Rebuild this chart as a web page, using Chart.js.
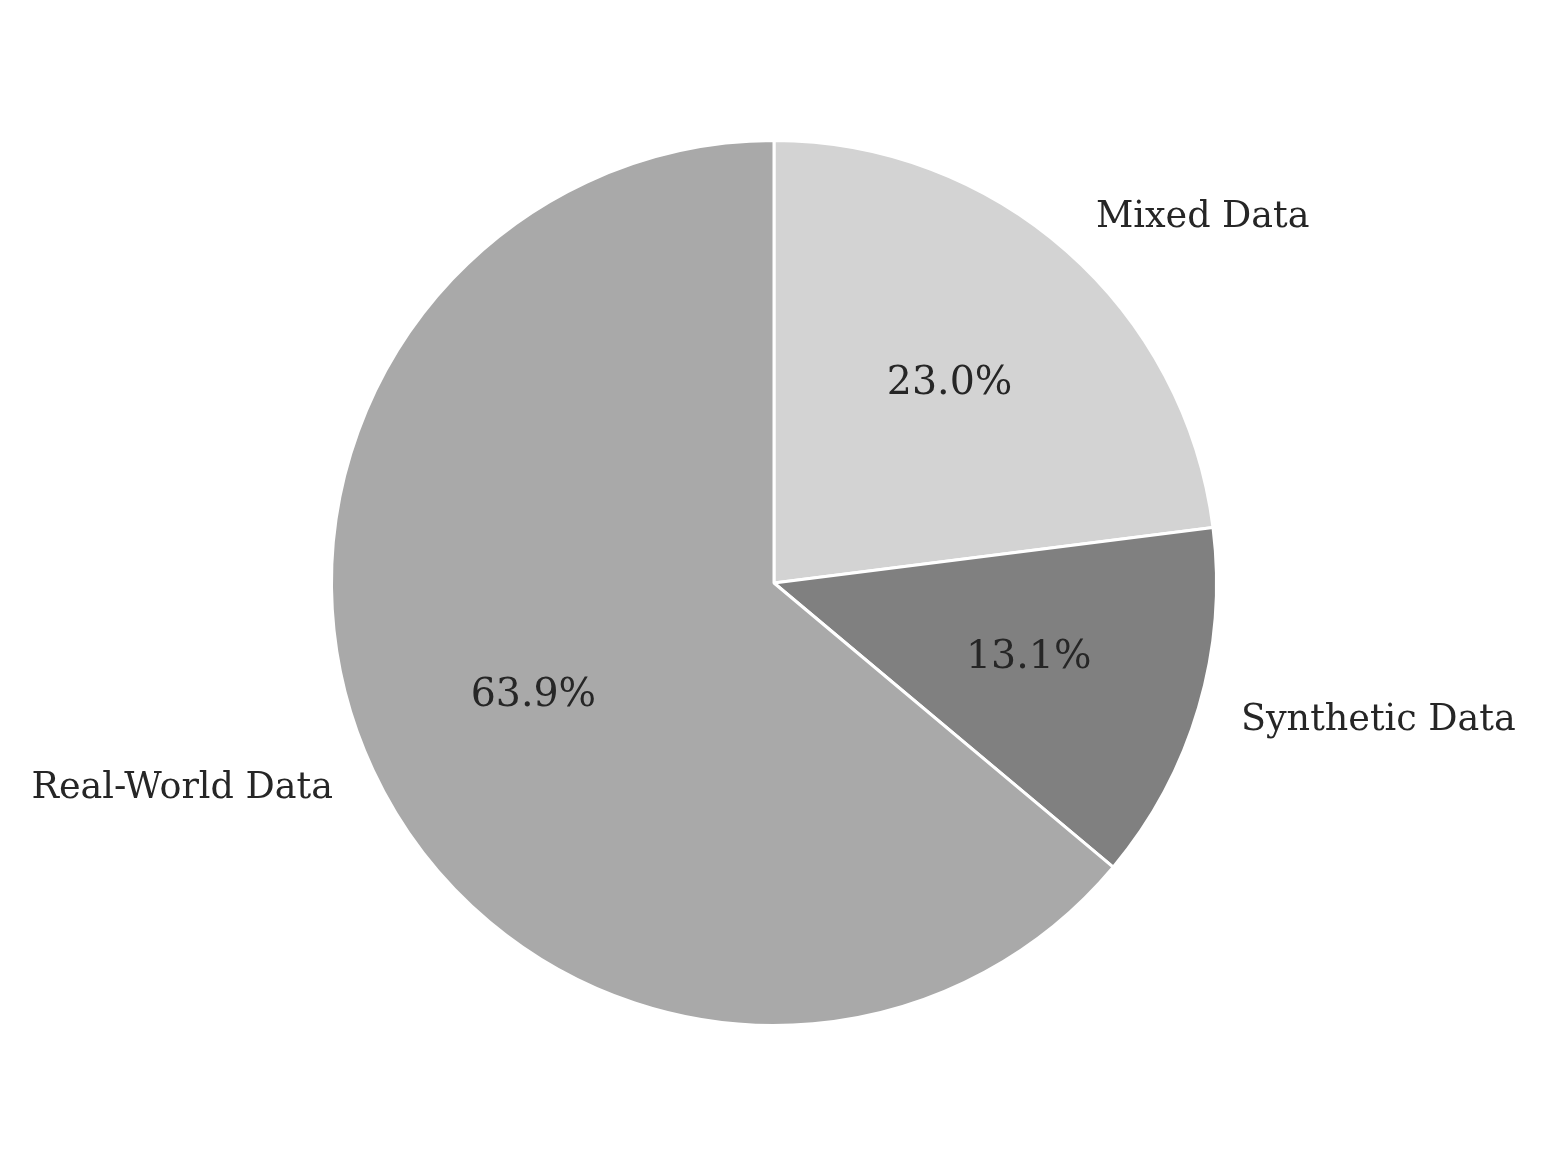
<!doctype html>
<html lang="en">
  <head>
    <meta charset="utf-8">
    <title>Data Source Share</title>
    <script src="https://cdn.jsdelivr.net/npm/chart.js"></script>
    <style>
      html, body { margin: 0; padding: 0; background: #fff; }
      #pieChart { display: block; }
    </style>
  </head>
  <body>
    <canvas id="pieChart" width="1548" height="1168"></canvas>
    <script>
      // slices listed clockwise from 12 o'clock
      const categories = ['Mixed Data', 'Synthetic Data', 'Real-World Data'];
      const shares = [23.0, 13.1, 63.9];
      const sliceColors = ['#d3d3d3', '#808080', '#a9a9a9'];

      const textCol = '#262626';
      const fontFamily = '"DejaVu Serif", serif';
      const labelSize = 36.5;
      const pctSize = 39.5;

      // matplotlib-style labels: names at 1.1 r, percentages at 0.6 r
      const pieLabels = {
        id: 'pieLabels',
        afterDatasetsDraw(chart) {
          const ctx = chart.ctx;
          const meta = chart.getDatasetMeta(0);
          const data = chart.data.datasets[0].data;
          const total = data.reduce((a, b) => a + b, 0);
          ctx.save();
          ctx.fillStyle = textCol;
          ctx.textBaseline = 'middle';
          meta.data.forEach((arc, i) => {
            const mid = (arc.startAngle + arc.endAngle) / 2;
            const r = arc.outerRadius;
            const cx = Math.cos(mid), cy = Math.sin(mid);

            ctx.font = labelSize + 'px ' + fontFamily;
            ctx.textAlign = cx >= 0 ? 'left' : 'right';
            ctx.fillText(chart.data.labels[i], arc.x + cx * r * 1.1, arc.y + cy * r * 1.1);

            ctx.font = pctSize + 'px ' + fontFamily;
            ctx.textAlign = 'center';
            const pct = (data[i] / total * 100).toFixed(1) + '%';
            ctx.fillText(pct, arc.x + cx * r * 0.6, arc.y + cy * r * 0.6);
          });
          ctx.restore();
        }
      };

      const chartConfig = {
        type: 'pie',
        data: {
          labels: categories,
          datasets: [{
            data: shares,
            backgroundColor: sliceColors,
            borderColor: '#ffffff',
            borderWidth: 3
          }]
        },
        options: {
          responsive: false,
          animation: false,
          layout: {
            padding: { left: 0, right: 0, top: 139, bottom: 141 }
          },
          plugins: {
            legend: { display: false },
            tooltip: { enabled: false }
          }
        },
        plugins: [pieLabels]
      };

      const ctx = document.getElementById('pieChart').getContext('2d');
      const myChart = new Chart(ctx, chartConfig);
    </script>
  </body>
</html>
